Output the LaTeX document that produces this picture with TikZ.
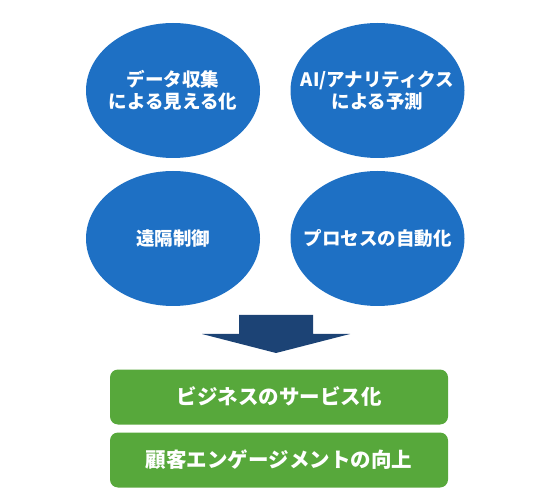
\documentclass[tikz,border=0pt]{standalone}
\usepackage{fontspec}
\newfontfamily\jpfont{Noto Sans CJK JP}
\usepackage{xcolor}
\usepackage{tikz}
\usetikzlibrary{positioning, shapes.geometric}

\definecolor{ellblue}{HTML}{1E70C4}
\definecolor{arrowblue}{HTML}{1C4375}
\definecolor{boxgreen}{HTML}{57A83B}

\begin{document}
\begin{tikzpicture}[x=1pt, y=-1pt,
        topic/.style={ellipse, fill=ellblue, inner sep=0pt,
            minimum width=174pt, minimum height=135pt,
            label={[text=white, align=center,
                font=\jpfont\bfseries\fontsize{18.5}{22}\selectfont]center:#1}},
        result/.style={rectangle, rounded corners=8pt, fill=boxgreen, text=white,
            minimum width=338pt, minimum height=55pt, inner sep=0pt,
            font=\jpfont\bfseries\fontsize{20.5}{24}\selectfont}]
        \useasboundingbox (0,0) rectangle (557,494);
        \node[topic={データ収集\\による見える化}]   (data)   at (173,90.5)    {};
        \node[topic={AI/アナリティクス\\による予測}] (ai)     at (377.5,90.5)  {};
        \node[topic={遠隔制御}]                     (remote) at (173,238.5)   {};
        \node[topic={プロセスの自動化}]              (auto)   at (377.5,238.5) {};
        \coordinate (A1) at (239,315);
        \coordinate (A2) at (313,315);
        \coordinate (A3) at (313,334);
        \coordinate (A4) at (350,334);
        \coordinate (A5) at (276,353);
        \coordinate (A6) at (202,334);
        \coordinate (A7) at (239,334);
        \fill[arrowblue] (A1) -- (A2) -- (A3) -- (A4) -- (A5) -- (A6) -- (A7) -- cycle;
        \node[result] (service) at (279,397) {ビジネスのサービス化};
        \node[result] (engage)  at (279,460) {顧客エンゲージメントの向上};
    \end{tikzpicture}
\end{document}
